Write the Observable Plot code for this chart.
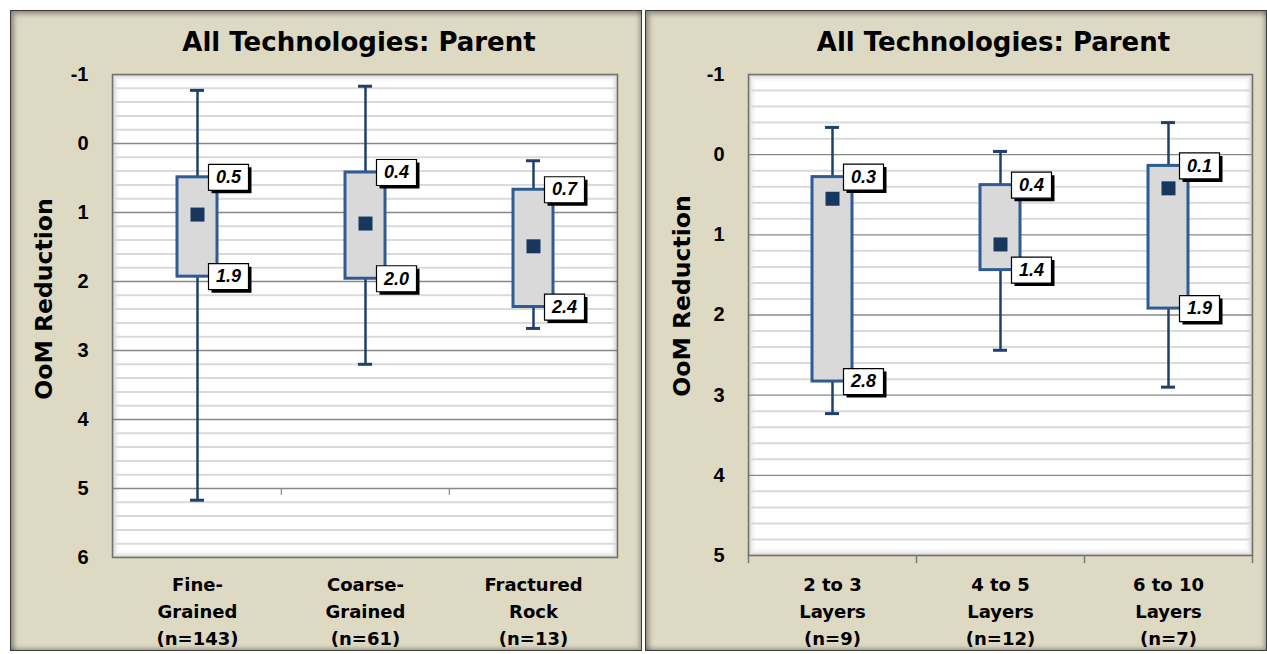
<!DOCTYPE html>
<html><head><meta charset="utf-8">
<script src="https://cdn.jsdelivr.net/npm/d3@7"></script>
<script src="https://cdn.jsdelivr.net/npm/@observablehq/plot@0.6"></script>
<style>
body{margin:0;background:#fff;width:1267px;height:654px;overflow:hidden;position:relative;font-family:"Liberation Sans",Arial,sans-serif}
.panel{position:absolute;top:10px;height:641px;background:#DDD9C3;box-sizing:border-box;border:1px solid #3a3a3a;box-shadow:inset 3px 3px 5px rgba(0,0,0,0.35), inset -2px -2px 4px rgba(0,0,0,0.25)}
.panel svg{position:absolute;left:0;top:0}
</style></head><body>
<div id="left" class="panel" style="left:10px;width:632px"></div>
<div id="right" class="panel" style="left:645px;width:622px"></div>
<script>
// ---- data ----
const title = "All Technologies: Parent";
const yLabel = "OoM Reduction";

const leftCategories = ["Fine-\nGrained\n(n=143)", "Coarse-\nGrained\n(n=61)", "Fractured\nRock\n(n=13)"];
const leftMin  = [-0.77, -0.83, 0.25];
const leftQ1   = [0.49, 0.42, 0.67];
const leftMean = [1.03, 1.16, 1.49];
const leftQ3   = [1.93, 1.96, 2.37];
const leftMax  = [5.17, 3.20, 2.68];
const leftTicks = [-1, 0, 1, 2, 3, 4, 5, 6];

const rightCategories = ["2 to 3\nLayers\n(n=9)", "4 to 5\nLayers\n(n=12)", "6 to 10\nLayers\n(n=7)"];
const rightMin  = [-0.34, -0.04, -0.40];
const rightQ1   = [0.28, 0.38, 0.14];
const rightMean = [0.55, 1.12, 0.42];
const rightQ3   = [2.83, 1.44, 1.92];
const rightMax  = [3.23, 2.44, 2.90];
const rightTicks = [-1, 0, 1, 2, 3, 4, 5];

// ---- drawing ----
const squareSym = {draw(ctx){ ctx.rect(-7, -7, 14, 14); }};
const labelSym = {draw(ctx){ ctx.rect(-20, -13, 40, 26); }};
const FONT = "'Liberation Sans', Arial, sans-serif";
const WIDE = "'DejaVu Sans', Verdana, sans-serif";

function makeChart(o) {
  const {cats, min, q1, mean, q3, max, ticks, width, height, ml, mr, mt, mb} = o;
  const rows = cats.map((c, i) => ({cat: c, min: min[i], q1: q1[i], mean: mean[i], q3: q3[i], max: max[i]}));
  const labels = rows.flatMap(d => [{cat: d.cat, v: d.q1}, {cat: d.cat, v: d.q3}]);
  const lo = ticks[0], hi = ticks[ticks.length - 1];
  const minor = d3.range(Math.round((hi - lo) / 0.2) + 1).map(i => lo + i * 0.2)
    .filter(v => Math.abs(v - Math.round(v)) > 1e-6);
  const step = (width - ml - mr) / cats.length;
  const shade = [0.22, 0.15, 0.1, 0.07, 0.045, 0.03, 0.015].map((a, i) =>
    Plot.frame({inset: i + 0.5, stroke: "black", strokeOpacity: a, strokeWidth: 1}));
  const extraTicks = o.bottomTicks
    ? [Plot.ruleX(cats, {x: d => d, dx: -step / 2, y1: hi, y2: hi + 0.1, stroke: "#777", strokeWidth: 1.5}),
       Plot.ruleX([cats[cats.length - 1]], {x: d => d, dx: step / 2, y1: hi, y2: hi + 0.1, stroke: "#777", strokeWidth: 1.5})]
    : [Plot.ruleX(cats.slice(1), {x: d => d, dx: -step / 2, y1: 5, y2: 5.1, stroke: "#888", strokeWidth: 1.2})];
  return Plot.plot({
    width, height, marginLeft: ml, marginRight: mr, marginTop: mt, marginBottom: mb,
    style: {background: "none", fontFamily: FONT, overflow: "visible"},
    x: {domain: cats, paddingInner: 0.762, paddingOuter: 0.381, axis: null},
    y: {domain: [lo, hi], reverse: true, axis: null},
    marks: [
      Plot.frame({fill: "white"}),
      ...shade,
      Plot.ruleY(minor, {stroke: "#DADADA", strokeWidth: 2}),
      Plot.ruleY(ticks.slice(1, -1), {stroke: "#888888", strokeWidth: 1.3}),
      Plot.frame({stroke: "#6f6f6f", strokeWidth: 1.5}),
      ...extraTicks,
      Plot.axisY(ticks, {tickSize: 0, tickPadding: 24, fontSize: 20, fontWeight: "bold", fill: "black", tickFormat: d => String(d), label: null}),
      Plot.axisX(cats, {tickSize: 0, tickPadding: o.xPad, fontSize: 18, fontWeight: "bold", fontFamily: WIDE, fill: "black", lineHeight: 1.5, label: null}),
      Plot.ruleX(rows, {x: "cat", y1: "min", y2: "max", stroke: "#1F3F6E", strokeWidth: 2.5}),
      Plot.tickY(rows, {x: "cat", y: "min", stroke: "#1F3F6E", strokeWidth: 3, insetLeft: 13, insetRight: 13}),
      Plot.tickY(rows, {x: "cat", y: "max", stroke: "#1F3F6E", strokeWidth: 3, insetLeft: 13, insetRight: 13}),
      Plot.barY(rows, {x: "cat", y1: "q1", y2: "q3", fill: "#D9D9D9", stroke: "#2E5B94", strokeWidth: 3}),
      Plot.dot(rows, {x: "cat", y: "mean", symbol: squareSym, fill: "#17375E", stroke: null}),
      Plot.dot(labels, {x: "cat", y: "v", dx: 34, dy: 3, symbol: labelSym, fill: "black", stroke: null}),
      Plot.dot(labels, {x: "cat", y: "v", dx: 31, symbol: labelSym, fill: "white", stroke: "black", strokeWidth: 1.2}),
      Plot.text(labels, {x: "cat", y: "v", dx: 31, text: d => d3.format(".1f")(d.v), fontSize: 18, fontWeight: "bold", fontStyle: "italic", fill: "black"}),
      Plot.text([title], {frameAnchor: "top", lineAnchor: "middle", dx: o.titleDx, dy: -32, fontSize: 26, fontWeight: "bold", fontFamily: WIDE, fill: "black"}),
      Plot.text([yLabel], {frameAnchor: "left", textAnchor: "middle", lineAnchor: "middle", dx: o.ylabDx, dy: o.ylabDy, rotate: -90, fontSize: 23.5, fontWeight: "bold", fontFamily: WIDE, fill: "black"})
    ]
  });
}

document.getElementById("left").appendChild(makeChart({
  cats: leftCategories, min: leftMin, q1: leftQ1, mean: leftMean, q3: leftQ3, max: leftMax, ticks: leftTicks,
  width: 630, height: 639, ml: 101, mr: 24, mt: 63, mb: 93,
  bottomTicks: false, xPad: 14, titleDx: -6, ylabDx: -68, ylabDy: -17
}));
document.getElementById("right").appendChild(makeChart({
  cats: rightCategories, min: rightMin, q1: rightQ1, mean: rightMean, q3: rightQ3, max: rightMax, ticks: rightTicks,
  width: 620, height: 639, ml: 102, mr: 14, mt: 63, mb: 95,
  bottomTicks: true, xPad: 16, titleDx: -7, ylabDx: -66, ylabDy: -19
}));
</script></body></html>
